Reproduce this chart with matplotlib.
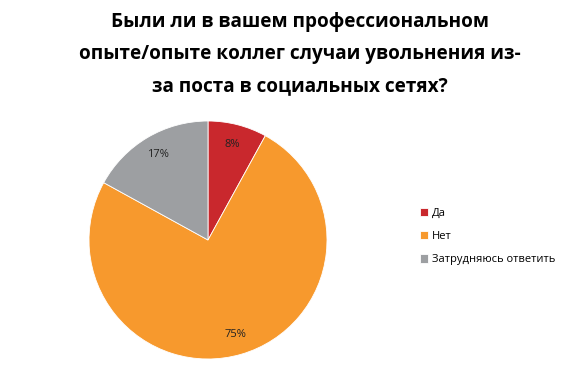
import matplotlib.pyplot as plt

labels = ["Да", "Нет", "Затрудняюсь ответить"]
values = [8, 75, 17]
colors = ["#C9282D", "#F7992D", "#9D9FA2"]
title = "Были ли в вашем профессиональном\nопыте/опыте коллег случаи увольнения из-\nза поста в социальных сетях?"

plt.rcParams['font.family'] = ['Open Sans', 'DejaVu Sans']

fig = plt.figure(figsize=(5.86, 3.68), dpi=100)
# axes for pie: center (208,240), radius ~119 px
r = 119
ax = fig.add_axes([(208 - r) / 586, (368 - 240 - r) / 368, 2 * r / 586, 2 * r / 368])
wedges, texts, autotexts = ax.pie(values, colors=colors, startangle=90, counterclock=False,
                                  autopct=lambda p: "%d%%" % round(p), pctdistance=0.83,
                                  wedgeprops=dict(edgecolor="white", linewidth=0.6),
                                  textprops=dict(fontsize=8, color="#222222"))
ax.set_xlim(-1, 1)
ax.set_ylim(-1, 1)
ax.set_aspect("auto")

fig.text(300 / 586, 1 - 54 / 368, title, ha="center", va="center", fontsize=13.7,
         fontweight="bold", linespacing=1.78)

leg = fig.legend(wedges, labels, loc="upper left", bbox_to_anchor=(410 / 586, 1 - 198 / 368),
                 frameon=False, fontsize=8, handlelength=0.75, handleheight=0.75,
                 labelspacing=1.1, handletextpad=0.3)

fig.savefig("out.png", dpi=100)
